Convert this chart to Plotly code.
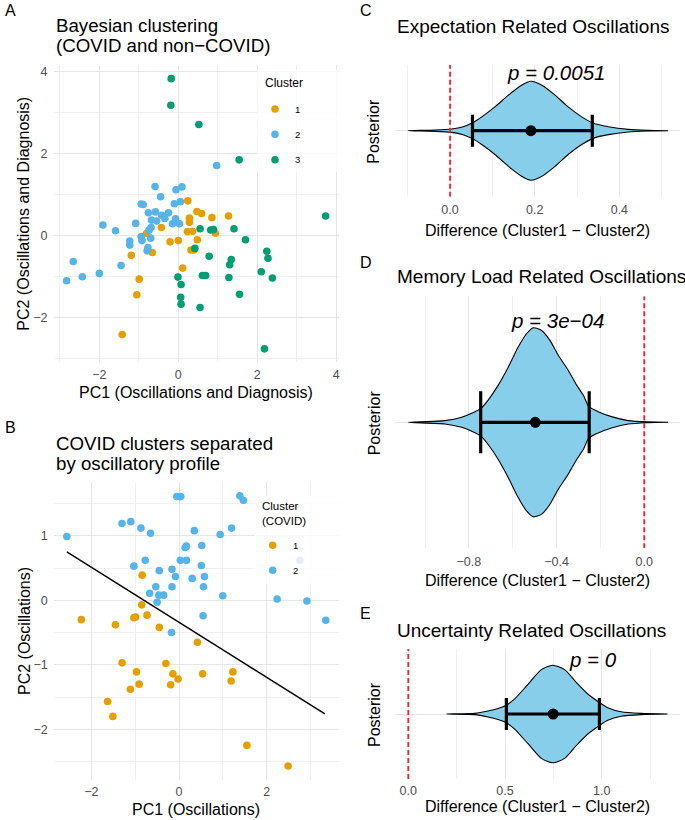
import plotly.graph_objects as go

W, H = 685, 820
FONT = "Liberation Sans, Arial, sans-serif"
ORANGE = "#E69F00"
BLUE = "#56B4E9"
GREEN = "#009E73"
SKY = "#87CEEB"

# ---------------- Panel A : Bayesian clustering (all participants) ----------------
a_c1_x = [0.24, 0.47, 0.59, 0.85, 1.27, 0.28, 0.28, -0.43, -0.80, 0.23, 0.36, 0.94, 0.00,
          -0.21, 0.48, 0.32, 0.39, -0.66, -1.19, 0.11, -0.99, -1.05, -1.42]
a_c1_y = [0.85, 0.59, 0.54, 0.44, 0.48, 0.43, 0.33, 0.20, 0.06, 0.10, 0.11, 0.06, -0.12,
          -0.15, -0.10, -0.35, -0.35, -0.41, -0.48, -0.79, -1.06, -1.44, -2.41]
a_c2_x = [0.97, -0.59, -0.06, 0.09, -0.45, -0.10, 0.05, -0.94, -0.89, -0.76, -0.58, -0.42,
          -0.25, -0.34, -0.68, -0.55, -0.07, -0.15, 0.03, -1.91, -1.59, -1.08, -0.69, -0.74,
          -0.94, -0.92, -0.70, -1.23, -1.23, -0.77, -0.79, -2.66, -1.45, -2.83, -2.43, -2.00]
a_c2_y = [1.71, 1.20, 1.12, 1.19, 0.95, 0.78, 0.83, 0.77, 0.76, 0.56, 0.58, 0.50,
          0.56, 0.42, 0.38, 0.36, 0.41, 0.29, 0.29, 0.26, 0.12, 0.30, 0.20, 0.14,
          -0.02, -0.12, -0.06, -0.13, -0.23, -0.29, -0.37, -0.63, -0.73, -1.10, -1.00, -0.92]
a_c3_x = [-0.18, -0.19, 0.52, 1.54, 3.73, 0.55, 0.82, 0.89, 1.41, 1.70, 0.42, 0.78, 1.34,
          1.30, 2.24, 2.27, 2.10, 2.38, -0.01, 0.07, 0.61, 0.69, 1.28, 1.55, 0.06, 0.07,
          0.55, 2.18]
a_c3_y = [3.83, 3.18, 2.71, 1.85, 0.48, 0.17, 0.14, 0.15, 0.17, -0.10, -0.31, -0.50, -0.58,
          -0.71, -0.38, -0.55, -0.88, -1.03, -1.01, -1.19, -0.97, -0.97, -1.02, -1.43, -1.50,
          -1.67, -1.75, -2.76]

# ---------------- Panel B : COVID clusters ----------------
b_c1_x = [-0.84, -2.23, -1.45, -0.85, -1.03, -0.99, -0.73, -0.45, 0.42, -1.30, -0.97, -0.30,
          -0.14, -0.02, -0.19, 0.54, 1.23, 1.19, -1.11, -0.91, -1.63, -1.51, 1.55, 2.49]
b_c1_y = [0.39, -0.30, -0.38, -0.07, -0.27, -0.26, -0.23, -0.42, -0.65, -0.97, -1.11, -0.98,
          -1.14, -1.22, -1.31, -1.14, -1.11, -1.25, -1.38, -1.30, -1.57, -1.80, -2.25, -2.57]
b_c2_x = [-2.56, -1.30, -1.10, -0.87, -0.65, -0.05, 0.04, 1.39, 1.47, 0.35, 0.94, 1.20, 0.14,
          0.17, 0.52, -1.03, -0.77, 0.03, 0.17, -0.45, -0.16, -0.08, 0.51, 0.58, 0.30, -0.53,
          -0.16, 0.56, -0.67, -0.46, -0.35, 1.00, -0.50, 2.24, 2.92, 3.35, 0.55, -0.17, 2.76]
b_c2_y = [0.99, 1.19, 1.22, 1.12, 1.04, 1.61, 1.61, 1.62, 1.55, 1.08, 1.02, 1.12, 0.82,
          0.84, 0.85, 0.53, 0.62, 0.62, 0.62, 0.46, 0.48, 0.37, 0.54, 0.37, 0.34, 0.21,
          0.21, 0.21, 0.11, 0.08, 0.08, 0.07, -0.03, 0.02, -0.01, -0.31, -0.24, -0.50, 0.62]
b_line_x = [-2.56, 3.33]
b_line_y = [0.75, -1.76]

# ---------------- Panels C-E : posterior differences ----------------
c_x = [-0.099, -0.035, 0.004, 0.031, 0.053, 0.075, 0.106, 0.138, 0.169, 0.191, 0.217,
       0.248, 0.279, 0.311, 0.339, 0.374, 0.421, 0.468, 0.515]
c_d = [0.0, 0.013, 0.034, 0.08, 0.16, 0.28, 0.48, 0.72, 0.92, 1.0, 0.92,
       0.72, 0.48, 0.28, 0.15, 0.08, 0.027, 0.007, 0.0]
c_stats = dict(mean=0.191, lo=0.053, hi=0.336)

d_x = [-1.077, -0.909, -0.833, -0.787, -0.745, -0.712, -0.666, -0.620, -0.575, -0.537,
       -0.506, -0.468, -0.430, -0.392, -0.347, -0.308, -0.278, -0.252, -0.210, -0.149,
       -0.073, 0.018, 0.109]
d_d = [0.0, 0.018, 0.053, 0.095, 0.147, 0.235, 0.393, 0.586, 0.796, 0.937,
       1.0, 0.972, 0.867, 0.709, 0.551, 0.393, 0.288, 0.165, 0.112, 0.060,
       0.018, 0.004, 0.0]
d_stats = dict(mean=-0.497, lo=-0.746, hi=-0.251)

e_x = [0.198, 0.344, 0.412, 0.464, 0.507, 0.55, 0.619, 0.688, 0.747, 0.808, 0.868,
       0.928, 0.983, 1.031, 1.10, 1.203, 1.34]
e_d = [0.0, 0.013, 0.06, 0.113, 0.18, 0.31, 0.61, 0.91, 1.0, 0.91, 0.65,
       0.41, 0.25, 0.13, 0.047, 0.013, 0.0]
e_stats = dict(mean=0.749, lo=0.507, hi=0.988)

p_labels = ["p = 0.0051", "p = 3e\u221204", "p = 0"]
p_pos_x = [0.251, -0.397, 0.954]
p_pos_y = [0.527, 0.487, 0.505]


def pxx(x):
    return x / W


def pyy(y):
    return 1 - y / H


fig = go.Figure()


def scatter(x, y, color, xa, ya):
    fig.add_trace(go.Scatter(x=x, y=y, mode="markers", xaxis=xa, yaxis=ya,
                             marker=dict(color=color, size=7.6, line=dict(width=0)),
                             showlegend=False, hoverinfo="skip"))


scatter(a_c1_x, a_c1_y, ORANGE, "x", "y")
scatter(a_c2_x, a_c2_y, BLUE, "x", "y")
scatter(a_c3_x, a_c3_y, GREEN, "x", "y")

fig.add_trace(go.Scatter(x=b_line_x, y=b_line_y, mode="lines", xaxis="x2", yaxis="y2",
                         line=dict(color="black", width=1.4), showlegend=False, hoverinfo="skip"))
scatter(b_c1_x, b_c1_y, ORANGE, "x2", "y2")
scatter(b_c2_x, b_c2_y, BLUE, "x2", "y2")


def violin(xs, dens, st, xa, ya, capw):
    half = [d * 0.45 for d in dens]
    vx = list(xs) + list(xs[::-1])
    vy = half + [-h for h in half[::-1]]
    fig.add_trace(go.Scatter(x=vx, y=vy, mode="lines", fill="toself", fillcolor=SKY,
                             line=dict(color="black", width=1.1, shape="spline", smoothing=0.7),
                             xaxis=xa, yaxis=ya, showlegend=False, hoverinfo="skip"))
    fig.add_trace(go.Scatter(x=[0, 0], y=[-0.6, 0.6], mode="lines", xaxis=xa, yaxis=ya,
                             line=dict(color="#FF2020", width=1.8, dash="5px,3px"),
                             showlegend=False, hoverinfo="skip"))
    fig.add_trace(go.Scatter(x=[st["mean"]], y=[0], mode="markers", xaxis=xa, yaxis=ya,
                             marker=dict(color="black", size=11),
                             error_x=dict(type="data", symmetric=False,
                                          array=[st["hi"] - st["mean"]],
                                          arrayminus=[st["mean"] - st["lo"]],
                                          thickness=3.2, width=capw, color="black"),
                             showlegend=False, hoverinfo="skip"))


violin(c_x, c_d, c_stats, "x3", "y3", 16)
violin(d_x, d_d, d_stats, "x4", "y4", 31)
violin(e_x, e_d, e_stats, "x5", "y5", 16)

TICKFONT = dict(family=FONT, size=12.5, color="#4d4d4d")
GRID = "#e6e6e6"
MINOR = "#f0f0f0"


def xaxis(l, r, rng, dtick, mdtick, anchor, fmt=None, standoff=4):
    d = dict(domain=[pxx(l), pxx(r)], range=rng, dtick=dtick, tick0=0, anchor=anchor,
             showgrid=True, gridcolor=GRID, gridwidth=1.1, zeroline=False, showline=False,
             ticks="", tickfont=TICKFONT, ticklabelstandoff=standoff,
             minor=dict(dtick=mdtick, tick0=0, showgrid=True, gridcolor=MINOR, gridwidth=0.7))
    if fmt:
        d["tickformat"] = fmt
    return d


def yaxis(t, b, rng, dtick, mdtick, anchor):
    return dict(domain=[pyy(b), pyy(t)], range=rng, dtick=dtick, tick0=0, anchor=anchor,
                showgrid=True, gridcolor=GRID, gridwidth=1.1, zeroline=False, showline=False,
                ticks="", tickfont=TICKFONT, ticklabelstandoff=5,
                minor=dict(dtick=mdtick, tick0=0, showgrid=True, gridcolor=MINOR, gridwidth=0.7))


def vyaxis(t, b, anchor):
    return dict(domain=[pyy(b), pyy(t)], range=[-0.6, 0.6], tickvals=[0], showticklabels=False,
                anchor=anchor, showgrid=True, gridcolor=GRID, gridwidth=1.1, zeroline=False,
                showline=False, ticks="")


fig.update_layout(
    width=W, height=H, margin=dict(l=0, r=0, t=0, b=0),
    paper_bgcolor="white", plot_bgcolor="white", showlegend=False,
    font=dict(family=FONT, color="black"),
    xaxis=xaxis(53.5, 338.7, [-3.16, 4.06], 2, 1, "y", standoff=3),
    yaxis=yaxis(65.1, 362.4, [-3.09, 4.16], 2, 1, "x"),
    xaxis2=xaxis(53.7, 338.9, [-2.86, 3.65], 2, 1, "y2", standoff=3),
    yaxis2=yaxis(482.3, 779.6, [-2.78, 1.83], 1, 0.5, "x2"),
    xaxis3=xaxis(395, 679.5, [-0.13, 0.542], 0.2, 0.1, "y3", ".1f"),
    yaxis3=vyaxis(64.7, 196.7, "x3"),
    xaxis4=xaxis(395, 679.5, [-1.137, 0.161], 0.4, 0.2, "y4", ".1f"),
    yaxis4=vyaxis(296.3, 548.3, "x4"),
    xaxis5=xaxis(395, 679.5, [-0.0686, 1.402], 0.5, 0.25, "y5", ".1f", standoff=2),
    yaxis5=vyaxis(649, 779, "x5"),
)

ann = []


def txt(text, x, y, size, xanchor="center", angle=0, italic=False, color="black"):
    t = "<i>" + text + "</i>" if italic else text
    ann.append(dict(text=t, x=pxx(x), y=pyy(y), xref="paper", yref="paper", showarrow=False,
                    xanchor=xanchor, yanchor="middle", textangle=angle, align="left",
                    font=dict(family=FONT, size=size, color=color)))


# panel letters
txt("A", 3, 10, 16, "left")
txt("B", 3, 427, 16, "left")
txt("C", 358, 10, 16, "left")
txt("D", 358, 262, 16, "left")
txt("E", 358, 613, 16, "left")

# titles
txt("Bayesian clustering", 54, 25.7, 18.7, "left")
txt("(COVID and non\u2212COVID)", 54, 45, 18.7, "left")
txt("COVID clusters separated", 54, 443.3, 18.7, "left")
txt("by oscillatory profile", 54, 463.3, 18.7, "left")
txt("Expectation Related Oscillations", 395, 26.7, 19, "left")
txt("Memory Load Related Oscillations", 395, 276.7, 19, "left")
txt("Uncertainty Related Oscillations", 395, 630, 19, "left")

# axis titles
txt("PC1 (Oscillations and Diagnosis)", 196, 392, 16)
txt("PC2 (Oscillations and Diagnosis)", 24, 213.7, 16, angle=-90)
txt("PC1 (Oscillations)", 196, 809, 16)
txt("PC2 (Oscillations)", 24, 631, 16, angle=-90)
for yc in (130.7, 422.3, 714):
    txt("Posterior", 374, yc, 16, angle=-90)
for yc in (230, 580, 806.5):
    txt("Difference (Cluster1 \u2212 Cluster2)", 537, yc, 16)

# p-values in data coordinates
for lab, xv, yv, ax in zip(p_labels, p_pos_x, p_pos_y, ["3", "4", "5"]):
    ann.append(dict(text="<i>" + lab + "</i>", x=xv, y=yv, xref="x" + ax, yref="y" + ax,
                    showarrow=False, xanchor="center", yanchor="middle",
                    font=dict(family=FONT, size=20.5, color="black")))

# legends (drawn manually, ggplot style inside panel)
shapes = []
shapes.append(dict(type="rect", xref="paper", yref="paper", x0=pxx(257), x1=pxx(338.7),
                   y0=pyy(172), y1=pyy(70), fillcolor="rgba(255,255,255,0.8)",
                   line=dict(width=0), layer="above"))
shapes.append(dict(type="rect", xref="paper", yref="paper", x0=pxx(255), x1=pxx(338.9),
                   y0=pyy(584), y1=pyy(496), fillcolor="rgba(255,255,255,0.8)",
                   line=dict(width=0), layer="above"))


def key(cx, cy, color):
    r = 3.8
    shapes.append(dict(type="circle", xref="paper", yref="paper", x0=pxx(cx - r), x1=pxx(cx + r),
                       y0=pyy(cy + r), y1=pyy(cy - r), fillcolor=color,
                       line=dict(width=0), layer="above"))


txt("Cluster", 263, 83.3, 12, "left")
for lab, cy, col in zip(["1", "2", "3"], [109, 134.3, 159.7], [ORANGE, BLUE, GREEN]):
    key(275, cy, col)
    txt(lab, 297.7, cy, 9.5)

txt("Cluster<br>(COVID)", 260, 513, 11.5, "left")
for lab, cy, col in zip(["1", "2"], [545.3, 570.3], [ORANGE, BLUE]):
    key(272.7, cy, col)
    txt(lab, 295.3, cy, 9.5)

fig.update_layout(annotations=ann, shapes=shapes)
fig.write_html("out.html", config={"displayModeBar": False},
               post_script="document.body.style.margin='0';document.body.style.padding='0';")
